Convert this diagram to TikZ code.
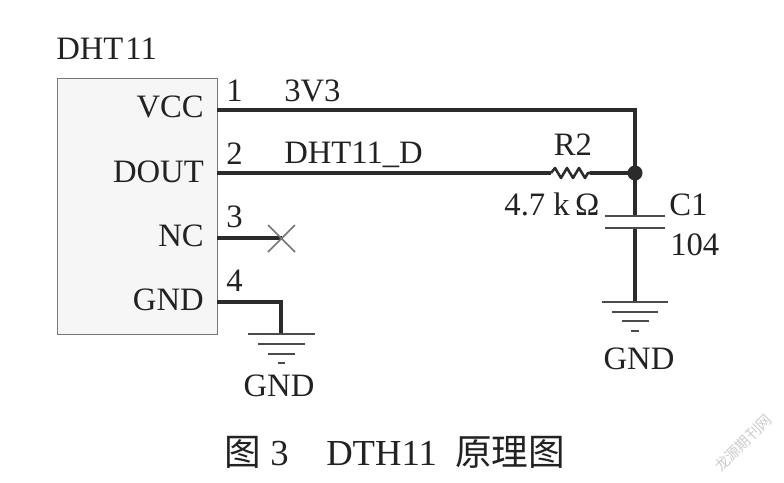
\documentclass[tikz,border=0pt]{standalone}
\usepackage{fontspec}
\setmainfont{Liberation Serif}
\newfontfamily\cjk{Noto Sans CJK SC}
\definecolor{ink}{HTML}{2B2B2B}
\definecolor{boxfill}{HTML}{F6F6F6}
\definecolor{boxline}{HTML}{777777}
\definecolor{txt}{HTML}{222222}
\tikzset{
  wire/.style={draw=ink,line width=2.3pt},
  thinwire/.style={draw=ink,line width=1.9pt},
  gndbar/.style={draw=ink!85,line width=2.1pt},
  label/.style={inner sep=0pt,text=txt,font=\fontsize{24.5}{24.5}\selectfont,anchor=base},
  pinname/.style={label,anchor=base east},
  startlabel/.style={label,anchor=base west},
  captext/.style={inner sep=0pt,text=txt,font=\fontsize{27.5}{27.5}\selectfont,anchor=base west}
}
\begin{document}
\begin{tikzpicture}[x=0.75pt,y=-0.75pt]
\useasboundingbox (0,0) rectangle (784,482);
% module
\node[draw=boxline,fill=boxfill,line width=1.1pt,minimum width=120pt,minimum height=192pt,inner sep=0pt,anchor=north west] (ic) at (57,78) {};
\node[startlabel] (title) at (56,59) {DHT\hspace{1.5pt}11};
\node[pinname] (vccn) at (204,117) {VCC};
\node[pinname] (doutn) at (204,182) {DOUT};
\node[pinname] (ncn) at (204,246) {NC};
\node[pinname] (gndn) at (204,310) {GND};
% pin numbers
\node[startlabel] (p1) at (226,101) {1};
\node[startlabel] (p2) at (226,164) {2};
\node[startlabel] (p3) at (226,227) {3};
\node[startlabel] (p4) at (226,291) {4};
% net labels
\node[startlabel] (n1) at (284,101) {3V3};
\node[startlabel] (n2) at (284,163) {DHT11\_D};
% points
\coordinate (a1) at (217,110);
\coordinate (a2) at (217,173);
\coordinate (a3) at (217,238);
\coordinate (a4) at (217,302);
\coordinate (j) at (635,173);
\coordinate (vtop) at (635,110);
\coordinate (rl) at (551,173);
\coordinate (rr) at (590,173);
\coordinate (nc) at (282,238);
\coordinate (g1) at (281,334);
\coordinate (g2) at (635,302);
\coordinate (c1) at (635,216);
\coordinate (c2) at (635,228);
% wires
\draw[wire,line join=miter] (a1) -- (vtop) -- (j);
\draw[wire] (a2) -- (rl);
\draw[thinwire,line join=round] (rl) -- ++(4,-5) -- ++(6,10) -- ++(6,-10) -- ++(6,10) -- ++(6,-10) -- ++(6,10) -- ++(3,-5) -- (rr);
\draw[wire] (rr) -- (j);
\draw[wire] (j) -- (c1);
\draw[wire] (c2) -- (g2);
\draw[wire] (a3) -- (nc);
\draw[wire] (a4) -| (g1);
\fill[ink] (j) circle[radius=7.5];
% no-connect
\draw[draw=ink!65,line width=1.1pt] (268,225) -- (295,252) (268,252) -- (295,225);
% capacitor
\draw[gndbar] (605,216) -- (665,216) (605,228) -- (665,228);
% grounds
\draw[gndbar] (248,334) -- (315,334) (258,344) -- (305,344) (268,354) -- (295,354) (278,363) -- (285,363);
\draw[gndbar] (602,302) -- (668,302) (612,312) -- (658,312) (622,321) -- (649,321) (631,331) -- (639,331);
% component labels
\node[label] (r2) at (573,155) {R2};
\node[label] (rv) at (552,215) {4.7 k\,Ω};
\node[startlabel] (c1l) at (669,215) {C1};
\node[startlabel] (c1v) at (670,255) {104};
\node[label] (gr) at (639,369) {GND};
\node[label] (gl) at (279,396) {GND};
% caption
\node[captext] (cap1) at (224,465) {{\cjk 图}};
\node[captext] (cap2) at (270,465) {3};
\node[captext] (cap3) at (326,465) {DTH11};
\node[captext] (cap4) at (455,465) {{\cjk 原理图}};
% watermark
\node[rotate=45,text=black!20,inner sep=0pt,font=\cjk\fontsize{11}{11}\selectfont] (wm) at (743,443) {龙源期刊网};
\end{tikzpicture}
\end{document}
